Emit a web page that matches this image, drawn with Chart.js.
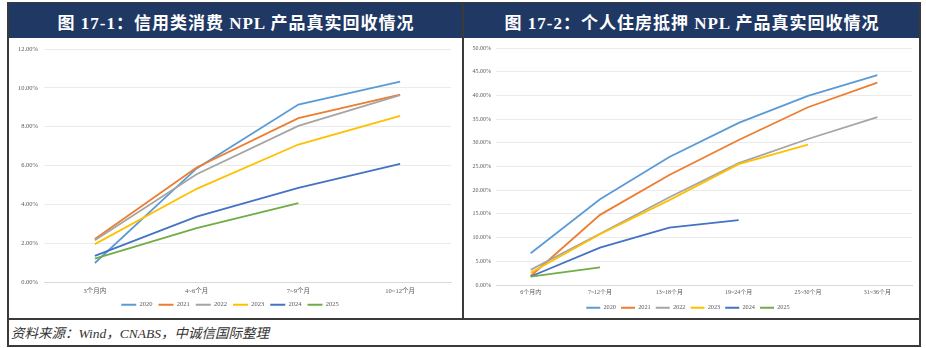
<!DOCTYPE html>
<html>
<head>
<meta charset="utf-8">
<script src="https://cdn.jsdelivr.net/npm/chart.js@4.4.1/dist/chart.umd.min.js"></script>
<style>
  html, body { margin:0; padding:0; background:#fff; width:926px; height:348px; overflow:hidden; }
  .abs { position:absolute; }
  .hdr { background:#1f3864; color:#fff; font-family:'Liberation Serif','Noto Sans CJK SC',serif; font-weight:bold; font-size:17px; letter-spacing:1px; text-align:center; box-sizing:border-box; padding-top:6px; }
  .line { background:#3a3a3a; }
  .src { font-family:'Liberation Serif','Noto Sans CJK SC',serif; font-style:italic; font-size:13.5px; color:#333; }
</style>
</head>
<body>
<div class="abs hdr" style="left:9px; top:3px; width:454px; height:35px;">图 17-1：信用类消费 NPL 产品真实回收情况</div>
<div class="abs hdr" style="left:464px; top:3px; width:456px; height:35px;">图 17-2：个人住房抵押 NPL 产品真实回收情况</div>

<div class="abs" style="left:9px; top:39px; width:453px; height:279px;"><canvas id="c1" width="453" height="279"></canvas></div>
<div class="abs" style="left:464px; top:39px; width:455px; height:282px;"><canvas id="c2" width="455" height="282"></canvas></div>

<div class="abs line" style="left:7px; top:2px; width:2px; height:345px;"></div>
<div class="abs line" style="left:462px; top:2px; width:2px; height:317px;"></div>
<div class="abs line" style="left:919px; top:2px; width:2px; height:345px;"></div>
<div class="abs line" style="left:7px; top:2px; width:914px; height:1px;"></div>
<div class="abs line" style="left:7px; top:318px; width:914px; height:2px;"></div>
<div class="abs line" style="left:7px; top:345px; width:914px; height:2px;"></div>
<div class="abs src" style="left:11px; top:322px;">资料来源：Wind，CNABS，中诚信国际整理</div>

<script>
// ---- Data: chart 1 (信用类消费 NPL) ----
const categories1 = ['3个月内', '4~6个月', '7~9个月', '10~12个月'];
const c1_2020 = [0.98, 5.85, 9.14, 10.32];
const c1_2021 = [2.22, 5.90, 8.44, 9.65];
const c1_2022 = [2.15, 5.55, 8.04, 9.62];
const c1_2023 = [1.95, 4.80, 7.08, 8.56];
const c1_2024 = [1.35, 3.37, 4.85, 6.08];
const c1_2025 = [1.20, 2.77, 4.06, null];

// ---- Data: chart 2 (个人住房抵押 NPL) ----
const categories2 = ['6个月内', '7~12个月', '13~18个月', '19~24个月', '25~30个月', '31~36个月'];
const c2_2020 = [6.7, 18.1, 27.0, 34.2, 39.9, 44.3];
const c2_2021 = [1.9, 14.8, 23.2, 30.6, 37.5, 42.7];
const c2_2022 = [3.2, 10.8, 18.5, 25.7, 30.8, 35.4];
const c2_2023 = [2.6, 10.7, 17.9, 25.5, 29.6, null];
const c2_2024 = [1.8, 7.9, 12.1, 13.7, null, null];
const c2_2025 = [1.75, 3.7, null, null, null, null];

const seriesNames = ['2020', '2021', '2022', '2023', '2024', '2025'];
const seriesColors = ['#5b9bd5', '#ed7d31', '#a5a5a5', '#ffc000', '#4472c4', '#70ad47'];

const FONT = "'Liberation Serif', 'Noto Sans CJK SC', serif";

function makeChart(id, cats, series, cfg) {
  const datasets = series.map((d, i) => ({
    label: seriesNames[i],
    data: d,
    borderColor: seriesColors[i],
    backgroundColor: seriesColors[i],
    borderWidth: 1.8,
    pointRadius: 0,
    tension: 0,
    spanGaps: false,
    order: series.length - i
  }));
  return new Chart(document.getElementById(id), {
    type: 'line',
    data: { labels: cats, datasets },
    options: {
      responsive: false,
      animation: false,
      devicePixelRatio: 1,
      layout: { padding: { top: cfg.padTop, right: cfg.padRight, bottom: cfg.padBottom, left: 0 } },
      plugins: {
        tooltip: { enabled: false },
        legend: {
          position: 'bottom',
          labels: {
            boxWidth: cfg.boxW, boxHeight: 2, padding: cfg.legPad,
            color: '#595959',
            font: { family: FONT, size: cfg.legFont },
            sort: (a, b) => a.datasetIndex - b.datasetIndex,
            generateLabels: chart => Chart.defaults.plugins.legend.labels.generateLabels(chart)
              .map(l => Object.assign(l, { lineWidth: 0, strokeStyle: 'rgba(0,0,0,0)' }))
          }
        }
      },
      scales: {
        x: {
          offset: true,
          grid: { display: false, drawTicks: false },
          border: { display: true, color: '#d9d9d9', width: 1 },
          ticks: { color: '#595959', font: { family: FONT, size: cfg.tickFont }, padding: cfg.xPad, maxRotation: 0, autoSkip: false },
          afterFit: s => { s.height = cfg.xH; }
        },
        y: {
          min: 0, max: cfg.max,
          grid: { color: '#ebebeb', drawTicks: false, lineWidth: 1 },
          border: { display: false },
          ticks: { stepSize: cfg.step, color: '#595959', font: { family: FONT, size: cfg.tickFont }, padding: cfg.yPad,
                   callback: v => v.toFixed(2) + '%' },
          afterFit: s => { s.width = cfg.yW; }
        }
      }
    }
  });
}

makeChart('c1', categories1, [c1_2020, c1_2021, c1_2022, c1_2023, c1_2024, c1_2025],
  { padTop: 10, padRight: 11, padBottom: 0, boxW: 15, legPad: 6, legFont: 6.5, tickFont: 6.5,
    xPad: 5, xH: 13.5, max: 12, step: 2, yPad: 6, yW: 35 });
makeChart('c2', categories2, [c2_2020, c2_2021, c2_2022, c2_2023, c2_2024, c2_2025],
  { padTop: 9, padRight: 7, padBottom: 0, boxW: 14, legPad: 5, legFont: 6.3, tickFont: 6,
    xPad: 4, xH: 14.7, max: 50, step: 5, yPad: 5, yW: 32 });
</script>
</body>
</html>
